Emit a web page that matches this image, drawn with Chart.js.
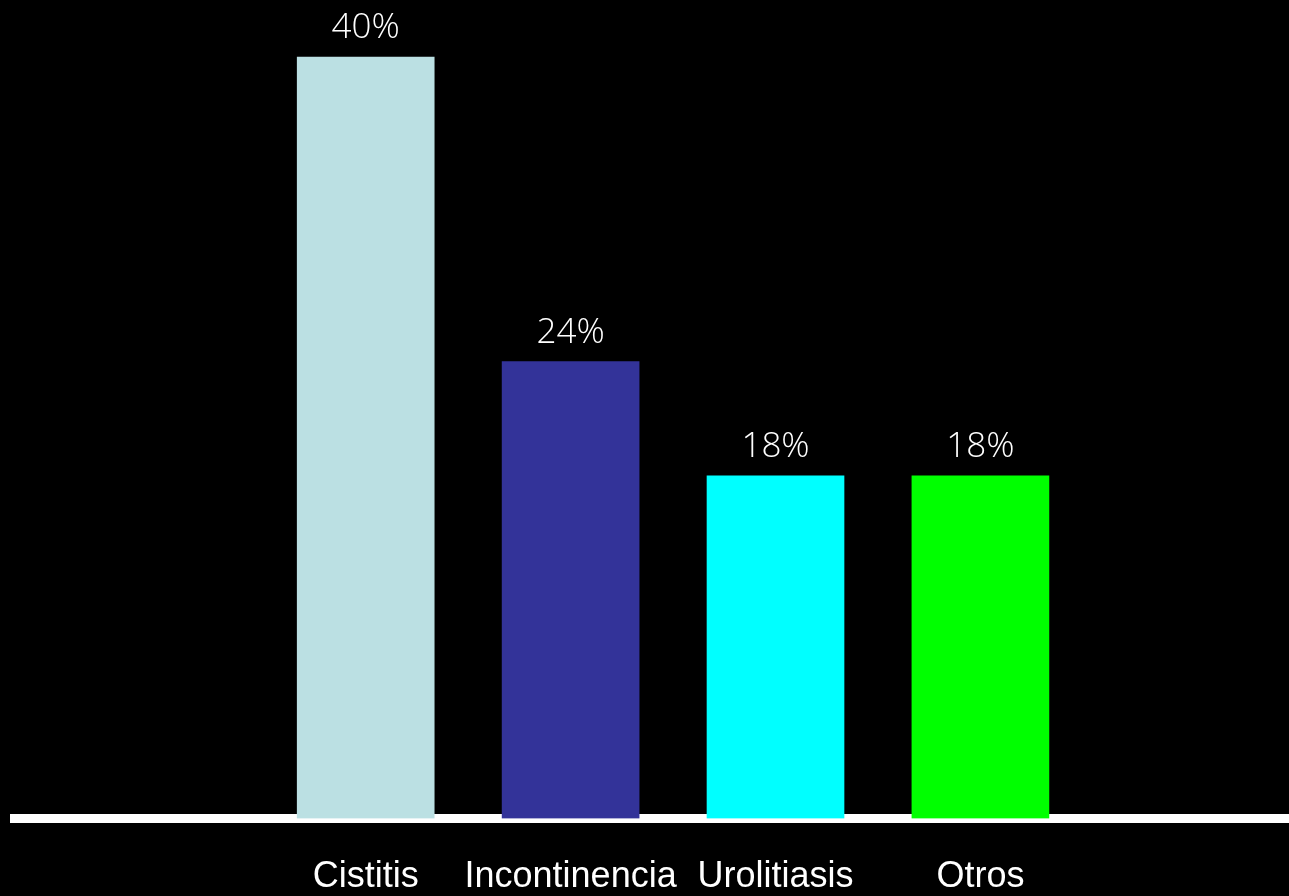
<!DOCTYPE html>
<html>
<head>
<meta charset="utf-8">
<script src="https://cdn.jsdelivr.net/npm/chart.js@4"></script>
<style>
  html, body { margin: 0; padding: 0; background: #000; overflow: hidden; }
  #wrap { width: 1289px; height: 896px; position: relative; background: #000; }
</style>
</head>
<body>
<div id="wrap"><canvas id="c"></canvas></div>
<script>
const categories = ['Cistitis', 'Incontinencia', 'Urolitiasis', 'Otros'];
const values = [40, 24, 18, 18];
const valueLabels = ['40%', '24%', '18%', '18%'];
const barColors = ['#BBE0E3', '#333399', '#00FFFF', '#00FF00'];

const valueLabelPlugin = {
  id: 'valueLabels',
  afterDatasetsDraw(chart) {
    const ctx = chart.ctx;
    const meta = chart.getDatasetMeta(0);
    ctx.save();
    ctx.fillStyle = '#FFFFFF';
    ctx.font = '300 35px "Open Sans"';
    ctx.textAlign = 'center';
    ctx.textBaseline = 'alphabetic';
    meta.data.forEach((bar, i) => {
      ctx.fillText(valueLabels[i], bar.x, bar.y - 19);
    });
    ctx.restore();
  }
};

new Chart(document.getElementById('c'), {
  type: 'bar',
  data: {
    datasets: [{
      data: categories.map((c, i) => ({ x: i + 1, y: values[i] })),
      backgroundColor: barColors,
      borderWidth: 0,
      barThickness: 137
    }]
  },
  options: {
    responsive: true,
    maintainAspectRatio: false,
    animation: false,
    layout: { padding: { left: 14.5, right: 0, top: 0, bottom: 0 } },
    plugins: { legend: { display: false }, tooltip: { enabled: false } },
    scales: {
      x: {
        type: 'linear',
        offset: false,
        min: -0.714,
        max: 5.506,
        afterBuildTicks(scale) {
          scale.ticks = categories.map((c, i) => ({ value: i + 1 }));
        },
        afterFit(scale) { scale.height = 77.5; },
        grid: { display: false, drawTicks: false },
        border: { display: true, color: '#FFFFFF', width: 9 },
        ticks: {
          autoSkip: false,
          maxRotation: 0,
          padding: 37,
          color: '#FFFFFF',
          font: { family: '"Liberation Sans"', size: 36, lineHeight: 1.2 },
          callback: (v) => categories[v - 1] ?? ''
        }
      },
      y: {
        display: false,
        min: 0,
        max: 43.0
      }
    }
  },
  plugins: [valueLabelPlugin]
});
</script>
</body>
</html>
